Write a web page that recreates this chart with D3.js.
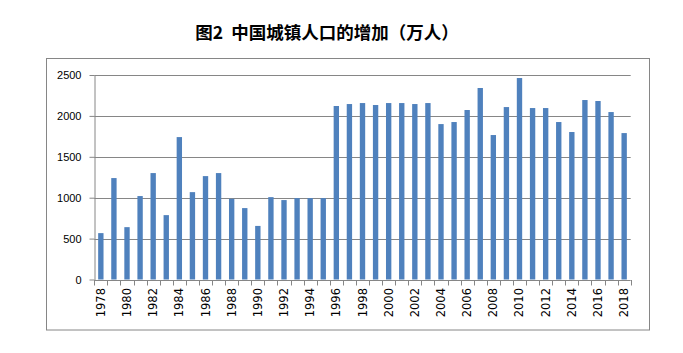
<!DOCTYPE html>
<html><head><meta charset="utf-8">
<script src="https://cdn.jsdelivr.net/npm/d3@7"></script>
<style>
html,body{margin:0;padding:0;background:#fff;}
svg{display:block;}
</style>
</head><body>
<svg id="chart" width="683" height="353"></svg>
<script>
const years = [1978,1979,1980,1981,1982,1983,1984,1985,1986,1987,1988,1989,1990,1991,1992,1993,1994,1995,1996,1997,1998,1999,2000,2001,2002,2003,2004,2005,2006,2007,2008,2009,2010,2011,2012,2013,2014,2015,2016,2017,2018];
const increase = [567,1240,640,1020,1301,787,1741,1068,1264,1301,987,873,655,1007,971,995,995,995,2121,2145,2157,2133,2157,2157,2145,2157,1900,1925,2072,2341,1766,2108,2463,2096,2096,1925,1803,2194,2182,2047,1790];
const yTicks = [0,500,1000,1500,2000,2500];
const xLabelYears = years.filter(y => y % 2 === 0);
const titleText = "图2  中国城镇人口的增加（万人）";

(function(){
const svg = d3.select("#chart");
const pLeft = 94.3, pRight = 630.7, pTop = 75, pBottom = 279.5;

// outer border
svg.append("rect").attr("x",46.5).attr("y",58.5).attr("width",603).attr("height",271.5)
  .attr("fill","none").attr("stroke","#868686").attr("stroke-width",1);

// title
svg.append("text").attr("x",327).attr("y",39).attr("text-anchor","middle")
  .style("white-space","pre")
  .attr("font-family","'Noto Sans CJK SC', sans-serif").attr("font-weight","bold")
  .attr("font-size",17.5).attr("fill","#000").text(titleText);

const x = d3.scaleBand().domain(years).range([pLeft,pRight]).paddingInner(0.59).paddingOuter(0.295);
const y = d3.scaleLinear().domain([0,2500]).range([pBottom,pTop]);

// gridlines
svg.append("g").selectAll("line").data(yTicks.filter(d=>d>0)).join("line")
  .attr("x1",pLeft).attr("x2",pRight)
  .attr("y1",d=>Math.round(y(d))+0.5).attr("y2",d=>Math.round(y(d))+0.5)
  .attr("stroke","#868686").attr("stroke-width",1);

// bars
svg.append("g").selectAll("rect").data(years).join("rect")
  .attr("x",(d)=>x(d)).attr("width",x.bandwidth())
  .attr("y",(d,i)=>y(increase[i])).attr("height",(d,i)=>y(0)-y(increase[i]))
  .attr("fill","#4F81BD");

// y axis
const yAxis = svg.append("g").attr("transform",`translate(${Math.round(pLeft)+0.5},0)`)
  .call(d3.axisLeft(y).tickValues(yTicks).tickFormat(d3.format("d")).tickSize(5).tickSizeOuter(0).tickPadding(8));
yAxis.select(".domain").attr("stroke","#868686");
yAxis.selectAll(".tick line").attr("stroke","#868686");
yAxis.selectAll(".tick text").attr("font-family","'Liberation Sans', Arial, sans-serif")
  .attr("font-size",11).attr("fill","#000");

// x axis line
svg.append("line").attr("x1",pLeft).attr("x2",pRight)
  .attr("y1",Math.round(pBottom)+0.5).attr("y2",Math.round(pBottom)+0.5)
  .attr("stroke","#868686");

// boundary ticks
const bounds = d3.range(years.length+1).map(i => pLeft + i*x.step());
svg.append("g").selectAll("line").data(bounds).join("line")
  .attr("x1",d=>Math.round(d)+0.5).attr("x2",d=>Math.round(d)+0.5)
  .attr("y1",Math.round(pBottom)).attr("y2",Math.round(pBottom)+5.5)
  .attr("stroke","#868686");

// x labels
const xAxis = svg.append("g").attr("transform",`translate(0,${Math.round(pBottom)})`)
  .call(d3.axisBottom(x).tickValues(xLabelYears).tickSize(0).tickPadding(0));
xAxis.select(".domain").remove();
xAxis.selectAll(".tick text")
  .attr("font-family","'DejaVu Sans', Verdana, sans-serif").attr("font-size",11.5)
  .attr("fill","#000").attr("text-anchor","end").attr("dy",null)
  .attr("transform","translate(4,8) rotate(-90)").attr("y",0).attr("x",0);
})();
</script>
</body></html>
